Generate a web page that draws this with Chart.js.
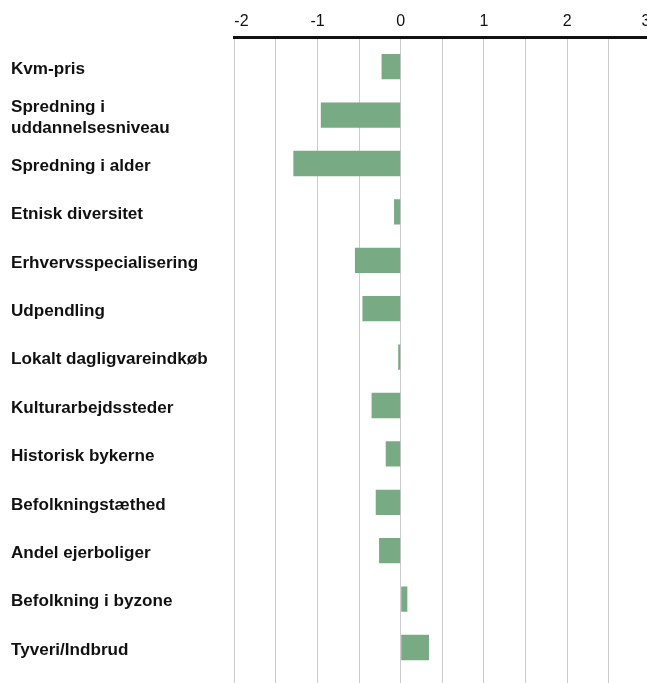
<!DOCTYPE html>
<html>
<head>
<meta charset="utf-8">
<script src="https://cdn.jsdelivr.net/npm/chart.js@4/dist/chart.umd.min.js"></script>
<style>
  html, body { margin: 0; padding: 0; background: #fff; overflow: hidden; }
  #wrap { width: 647px; height: 683px; overflow: hidden; }
</style>
</head>
<body>
<div id="wrap"><canvas id="chart" width="680" height="683"></canvas></div>
<script>
// categories, top to bottom
var labels = [
    'Kvm-pris',
    ['Spredning i', 'uddannelsesniveau'],
    'Spredning i alder',
    'Etnisk diversitet',
    'Erhvervsspecialisering',
    'Udpendling',
    'Lokalt dagligvareindkøb',
    'Kulturarbejdssteder',
    'Historisk bykerne',
    'Befolkningstæthed',
    'Andel ejerboliger',
    'Befolkning i byzone',
    'Tyveri/Indbrud'
];
var values = [-0.23, -0.96, -1.29, -0.08, -0.55, -0.46, -0.03, -0.35, -0.18, -0.30, -0.26, 0.08, 0.34];
var xTicks = [-2, -1, 0, 1, 2, 3];

(function(){
    var canvas = document.getElementById('chart');
    var points = values.map(function(v, i){ return { x: v, y: i }; });

    new Chart(canvas.getContext('2d'), {
        type: 'bar',
        data: {
            datasets: [{
                data: points,
                backgroundColor: '#78aa84',
                borderWidth: 0,
                categoryPercentage: 1,
                barPercentage: 0.523
            }]
        },
        options: {
            indexAxis: 'y',
            responsive: false,
            animation: false,
            layout: { padding: { left: 11, right: 29.7, top: 0, bottom: 0 } },
            plugins: { legend: { display: false }, tooltip: { enabled: false } },
            scales: {
                x: {
                    type: 'linear',
                    position: 'top',
                    min: xTicks[0],
                    max: xTicks[xTicks.length - 1],
                    afterFit: function(scale){ scale.height = 37; },
                    grid: { color: '#cccccc', lineWidth: 1, drawTicks: false },
                    border: { display: true, color: '#111111', width: 3 },
                    ticks: {
                        stepSize: 0.5,
                        align: 'inner',
                        padding: 6,
                        color: '#111111',
                        font: { family: 'Liberation Sans, Arial, sans-serif', size: 16 },
                        callback: function(v){ return xTicks.indexOf(v) >= 0 ? String(v) : ''; }
                    }
                },
                y: {
                    type: 'linear',
                    reverse: true,
                    offset: false,
                    bounds: 'data',
                    min: -0.6136,
                    max: 12.733,
                    afterBuildTicks: function(scale){
                        scale.ticks = labels.map(function(l, i){ return { value: i }; });
                    },
                    afterFit: function(scale){
                        scale.width = 223.3;
                        scale.paddingTop = 0;
                        scale.paddingBottom = 0;
                    },
                    grid: { display: false, offset: false },
                    border: { display: false },
                    ticks: {
                        autoSkip: false,
                        crossAlign: 'far',
                        labelOffset: 2.5,
                        color: '#111111',
                        font: { family: 'Liberation Sans, Arial, sans-serif', size: 17.1, weight: 'bold', lineHeight: 1.2 },
                        callback: function(v){ return labels[v] !== undefined ? labels[v] : ''; }
                    }
                }
            }
        }
    });
})();
</script>
</body>
</html>
